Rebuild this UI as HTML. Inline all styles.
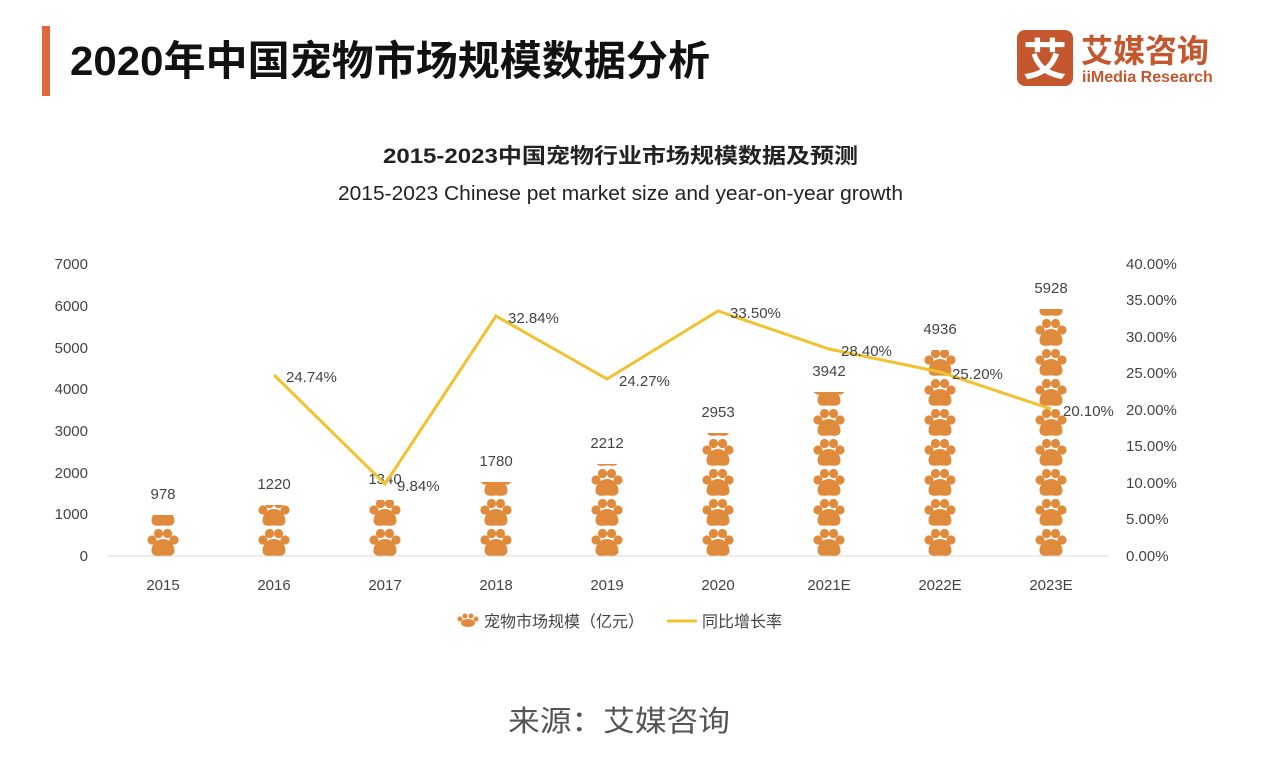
<!DOCTYPE html>
<html><head><meta charset="utf-8"><style>
body{margin:0;background:#fff;}
svg text{font-family:"Liberation Sans","Noto Sans CJK SC",sans-serif;}
</style></head><body>
<svg width="1266" height="752" viewBox="0 0 1266 752" xmlns="http://www.w3.org/2000/svg">
<defs>
<pattern id="paw" patternUnits="userSpaceOnUse" x="147" y="556" width="111" height="30">
<g fill="#e08a3c">
<circle cx="5" cy="14" r="4.6"/><circle cx="11.5" cy="7.5" r="4.6"/><circle cx="20.5" cy="7.5" r="4.6"/><circle cx="27" cy="14" r="4.6"/>
<path d="M16 13 C7 13 3 23 5 27 C7 31 12 29.5 16 29.5 C20 29.5 25 31 27 27 C29 23 25 13 16 13Z"/>
</g>
</pattern>
</defs>
<rect x="42" y="26" width="8" height="70" fill="#e0683a"/>
<text x="70" y="75" font-size="41" font-weight="bold" fill="#111" textLength="640" lengthAdjust="spacingAndGlyphs">2020年中国宠物市场规模数据分析</text>
<rect x="1017" y="30" width="56" height="56" rx="8" fill="#c4572e"/>
<text x="1045" y="75" font-size="44" fill="#fff" text-anchor="middle" font-weight="bold">艾</text>
<text x="1081" y="62" font-size="32" fill="#c4572e" font-weight="bold">艾媒咨询</text>
<text x="1082" y="82" font-size="16" fill="#c4572e" font-weight="bold">iiMedia Research</text>
<text x="383" y="163" font-size="21" font-weight="bold" fill="#222" textLength="475" lengthAdjust="spacingAndGlyphs">2015-2023中国宠物行业市场规模数据及预测</text>
<text x="338" y="200" font-size="20" fill="#222" textLength="565" lengthAdjust="spacingAndGlyphs">2015-2023 Chinese pet market size and year-on-year growth</text>
<line x1="108" y1="556" x2="1108" y2="556" stroke="#d9d9d9"/>
<g font-size="15" fill="#444" text-anchor="end">
<text x="88" y="561">0</text><text x="88" y="519">1000</text><text x="88" y="478">2000</text><text x="88" y="436">3000</text><text x="88" y="394">4000</text><text x="88" y="353">5000</text><text x="88" y="311">6000</text><text x="88" y="269">7000</text>
</g>
<g font-size="15" fill="#444">
<text x="1126" y="561">0.00%</text><text x="1126" y="524">5.00%</text><text x="1126" y="488">10.00%</text><text x="1126" y="451">15.00%</text><text x="1126" y="415">20.00%</text><text x="1126" y="378">25.00%</text><text x="1126" y="342">30.00%</text><text x="1126" y="305">35.00%</text><text x="1126" y="269">40.00%</text>
</g>
<g fill="url(#paw)">
<rect x="147" y="515" width="32" height="41"/>
<rect x="258" y="505" width="32" height="51"/>
<rect x="369" y="500" width="32" height="56"/>
<rect x="480" y="482" width="32" height="74"/>
<rect x="591" y="464" width="32" height="92"/>
<rect x="702" y="433" width="32" height="123"/>
<rect x="813" y="392" width="32" height="164"/>
<rect x="924" y="350" width="32" height="206"/>
<rect x="1035" y="309" width="32" height="247"/>
</g>
<g font-size="15" fill="#444" text-anchor="middle">
<text x="163" y="499">978</text><text x="274" y="489">1220</text><text x="385" y="484">1340</text><text x="496" y="466">1780</text><text x="607" y="448">2212</text><text x="718" y="417">2953</text><text x="829" y="376">3942</text><text x="940" y="334">4936</text><text x="1051" y="293">5928</text>
</g>
<g font-size="15" fill="#444" text-anchor="middle">
<text x="163" y="590">2015</text><text x="274" y="590">2016</text><text x="385" y="590">2017</text><text x="496" y="590">2018</text><text x="607" y="590">2019</text><text x="718" y="590">2020</text><text x="829" y="590">2021E</text><text x="940" y="590">2022E</text><text x="1051" y="590">2023E</text>
</g>
<polyline fill="none" stroke="#f2c12e" stroke-width="3" points="274,375 385,484 496,316 607,379 718,311 829,349 940,372 1051,409"/>
<g font-size="15" fill="#444">
<text x="286" y="382">24.74%</text><text x="397" y="491">9.84%</text><text x="508" y="323">32.84%</text><text x="619" y="386">24.27%</text><text x="730" y="318">33.50%</text><text x="841" y="356">28.40%</text><text x="952" y="379">25.20%</text><text x="1063" y="416">20.10%</text>
</g>
<g fill="#e08a3c" transform="translate(456,612)">
<circle cx="4" cy="7" r="2.5"/><circle cx="9" cy="4" r="2.5"/><circle cx="15" cy="4" r="2.5"/><circle cx="20" cy="7" r="2.5"/><ellipse cx="12" cy="11" rx="7" ry="4"/>
</g>
<text x="484" y="627" font-size="16" fill="#444">宠物市场规模（亿元）</text>
<line x1="667" y1="621" x2="697" y2="621" stroke="#f2c12e" stroke-width="3"/>
<text x="702" y="627" font-size="16" fill="#444">同比增长率</text>
<text x="508" y="731" font-size="29" fill="#555" textLength="222" lengthAdjust="spacingAndGlyphs">来源：艾媒咨询</text>
</svg>
</body></html>
